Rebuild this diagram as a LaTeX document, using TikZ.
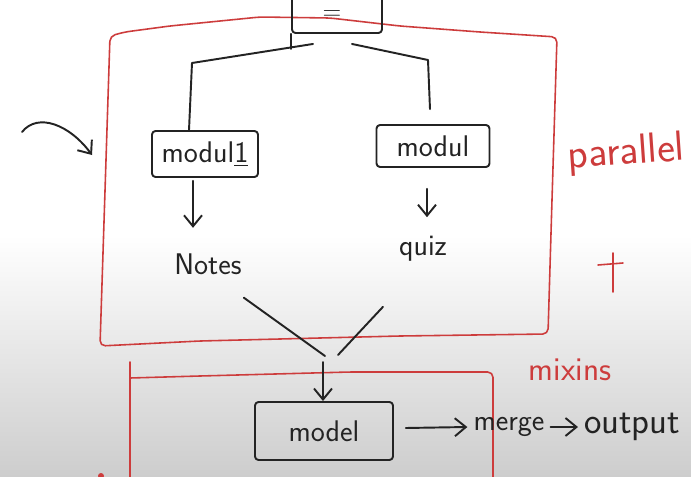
\documentclass[tikz,border=0pt]{standalone}
\usepackage{xcolor}
\usepackage{tikz}
\usetikzlibrary{arrows.meta,calc}
\definecolor{penblack}{RGB}{35,35,35}
\definecolor{penred}{RGB}{205,60,60}
\definecolor{boardgray}{RGB}{205,205,205}

\begin{document}
\begin{tikzpicture}[x=0.02cm, y=-0.02cm,
  every node/.style={font=\sffamily\fontsize{17}{20}\selectfont, text=penblack},
  pen/.style={draw=penblack, line width=1.1pt, line cap=round, line join=round},
  redpen/.style={draw=penred, line width=0.9pt, line cap=round, line join=round},
  arr/.style={pen, -{Straight Barb[length=2.2mm, width=3.6mm]}},
  box/.style={rectangle, pen, rounded corners=2pt, inner sep=2pt},
  redtext/.style={text=penred, inner sep=1pt}
]
  \useasboundingbox (0,0) rectangle (691,477);
  \clip (0,0) rectangle (691,477);
  % board
  \fill[white] (0,0) rectangle (691,235);
  \shade[top color=white, bottom color=boardgray] (0,235) rectangle (691,477);

  % red frames
  \draw[redpen, rounded corners=3pt] (100,346) -- (200,341) -- (400,336) -- (548,334)
    -- (552,200) -- (557,37) -- (480,32) -- (400,26) -- (330,18) -- (260,17)
    -- (170,26) -- (125,32) -- (110,36) -- cycle;
  \draw[redpen] (130,362) -- (130,480);
  \draw[redpen, rounded corners=3pt] (130,378) -- (200,376) -- (350,372) -- (493,372) -- (493,480);
  \fill[penred] (101,476) circle (3);

  % boxes and words
  \node[box, minimum width=1.8cm, minimum height=0.8cm] (top) at (337,13) {};
  \node[font=\sffamily\fontsize{14}{16}\selectfont, inner sep=0pt] (eq) at (332,15) {=};
  \node[box, minimum width=2.12cm, minimum height=0.92cm] (m1) at (205,154) {modul\underline{1}};
  \node[box, minimum width=2.26cm, minimum height=0.84cm] (m2) at (433,146) {modul};
  \node (notes) at (208,264) {Notes};
  \node (quiz) at (423,249) {quiz};
  \node[box, minimum width=2.76cm, minimum height=1.16cm] (model) at (324,431) {model};
  \node (merge) at (509,427) {merge};
  \node[anchor=west, font=\sffamily\fontsize{21}{24}\selectfont] (out) at (578,427) {output};
  \node[redtext, anchor=west, rotate=4,
        font=\sffamily\fontsize{24}{28}\selectfont] (par) at (566,158) {parallel};
  \node[redtext, font=\sffamily\fontsize{19}{22}\selectfont] (mix) at (570,370) {mixins};

  % connectors
  \draw[pen] (top.south west) -- ++(0,15);
  \draw[pen] ([xshift=-0.48cm,yshift=-0.2cm]top.south) -- (192,63) -- ([xshift=-0.32cm]m1.north);
  \draw[pen] ([xshift=0.3cm,yshift=-0.2cm]top.south) -- (428,60) -- ([xshift=-0.06cm,yshift=0.3cm]m2.north);
  \draw[arr] ([xshift=-0.24cm,yshift=-0.06cm]m1.south) -- ([xshift=-0.3cm,yshift=0.39cm]notes.north);
  \draw[arr] ([xshift=-0.12cm,yshift=-0.42cm]m2.south) -- ([xshift=0.08cm,yshift=0.26cm]quiz.north);

  \coordinate (vl) at (325,356);
  \coordinate (vr) at (338,355);
  \coordinate (vm) at (323,362);
  \draw[pen] ([xshift=-0.08cm,yshift=-0.34cm]notes.south east) -- (vl);
  \draw[pen] ([xshift=-0.8cm,yshift=-0.78cm]quiz.south) -- (vr);
  \draw[arr] (vm) -- (vm |- model.north);
  \draw[arr] ([xshift=0.24cm,yshift=0.06cm]model.east) -- (merge.west);
  \draw[arr] (merge.east) -- (out.west);

  % side marks
  \coordinate (cs) at (22,132);
  \coordinate (ce) at (92,155);
  \draw[arr] (cs) .. controls (38,112) and (70,125) .. (ce);
  \draw[redpen] (613,253) -- (613,292);
  \draw[redpen] (598,265) -- (623,263);
\end{tikzpicture}
\end{document}
